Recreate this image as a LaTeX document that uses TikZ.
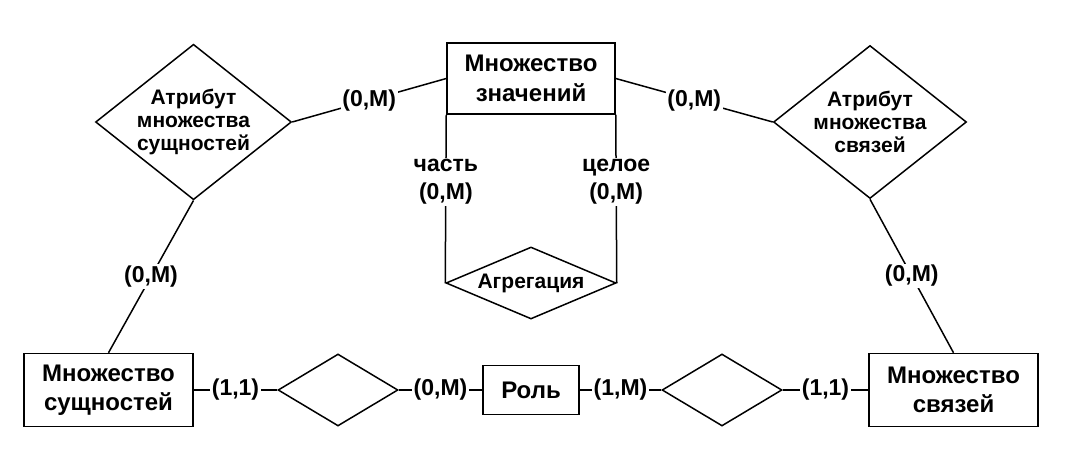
\documentclass[tikz,border=0pt]{standalone}
\usepackage{fontspec}
\setmainfont{Liberation Sans}
\usetikzlibrary{shapes.geometric}
\begin{document}
\begin{tikzpicture}[x=1pt,y=-1pt, line width=1.5pt,
  ent/.style={draw, rectangle, inner sep=0pt, align=center,
    font=\bfseries\fontsize{24}{29.5}\selectfont},
  rel/.style={draw, diamond, inner sep=0pt, align=center,
    font=\bfseries\fontsize{21}{23}\selectfont},
  card/.style={fill=white, inner sep=1.5pt, align=center,
    font=\bfseries\fontsize{23}{28}\selectfont}]
\useasboundingbox[fill=white] (0,0) rectangle (1066,461);

\node[ent, minimum width=168pt, minimum height=71pt] (mz) at (531,78.5) {Множество\\значений};
\node[ent, minimum width=169pt, minimum height=73pt] (ms) at (108.5,390) {Множество\\сущностей};
\node[ent, minimum width=169pt, minimum height=73pt] (msv) at (953.5,390) {Множество\\связей};
\node[ent, minimum width=96pt, minimum height=49pt] (role) at (531,390) {Роль};

\node[rel, minimum width=193pt, minimum height=153pt, aspect=1.26] (ams) at (193.5,122) {Атрибут\\множества\\сущностей};
\node[rel, minimum width=193pt, minimum height=153pt, aspect=1.26] (amsv) at (870,122) {Атрибут\\множества\\связей};
\node[rel, minimum width=170pt, minimum height=72pt, aspect=2.36] (agg) at (531,283) {Агрегация};
\node[rel, minimum width=120pt, minimum height=72pt, aspect=1.67] (r1) at (338,390) {};
\node[rel, minimum width=120pt, minimum height=72pt, aspect=1.67] (r2) at (722,390) {};

\draw (ams.east) -- (mz.west) node[card, midway] {(0,M)};
\draw (mz.east) -- (amsv.west) node[card, midway] {(0,M)};
\draw (ams.south) -- (ms.north) node[card, midway] {(0,M)};
\draw (amsv.south) -- (msv.north) node[card, midway] {(0,M)};
\draw (mz.south west) -- (agg.west) node[card, pos=0.40] {часть\\(0,M)};
\draw (mz.south east) -- (agg.east) node[card, pos=0.40] {целое\\(0,M)};

\draw (ms.east) -- (r1.west) node[card, midway] {(1,1)};
\draw (r1.east) -- (role.west) node[card, midway] {(0,M)};
\draw (role.east) -- (r2.west) node[card, midway] {(1,M)};
\draw (r2.east) -- (msv.west) node[card, midway] {(1,1)};
\end{tikzpicture}
\end{document}
